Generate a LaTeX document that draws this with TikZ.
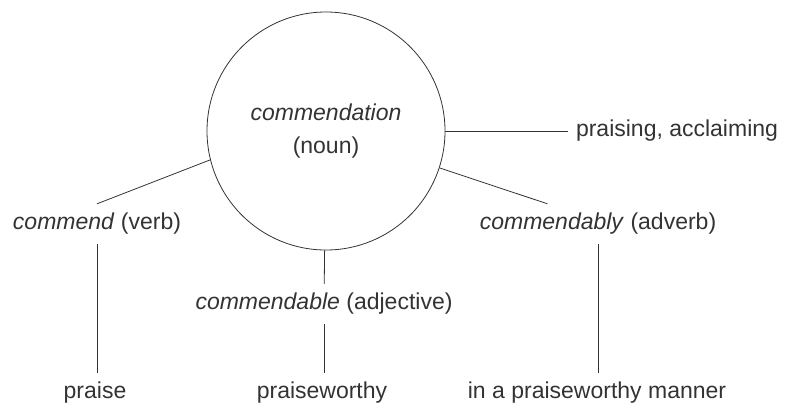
\documentclass[tikz,border=0pt]{standalone}
\usepackage{fontspec}
\setmainfont{Liberation Sans}
\usepackage{tikz}
\usepackage{xcolor}
\usetikzlibrary{calc}
\definecolor{ink}{HTML}{333333}
\tikzstyle{hub} = [circle, minimum size=238pt, draw=ink, line width=0.8pt, text=ink, align=center, inner sep=0pt, font=\fontsize{23}{33}\selectfont]
\tikzstyle{word} = [text=ink, inner xsep=8pt, inner ysep=8.5pt, text height=17pt, text depth=6pt, font=\fontsize{23}{27}\selectfont]
\tikzstyle{link} = [draw=ink, line width=0.8pt]

\begin{document}
\begin{tikzpicture}[x=1pt, y=-1pt]
        \useasboundingbox (0,0) rectangle (789,408);
        \node (noun) [hub] at (326,131) {\textit{commendation}\\(noun)};
        \node (praising) [word] at (677,131) {praising, acclaiming};
        \node (verb) [word] at (97,224) {\textit{commend} (verb)};
        \node (adv) [word] at (598,224) {\textit{commendably} (adverb)};
        \node (adj) [word] at (324,304) {\textit{commendable} (adjective)};
        \node (praise) [word] at (95,393) {praise};
        \node (worthy) [word] at (322,393) {praiseworthy};
        \node (manner) [word] at (597,393) {in a praiseworthy manner};


        \draw [link] (noun) -- (praising);
        \draw [link] (noun.194) -- (verb.north);
        \draw [link] (noun.342) -- ($(adv.north west)!0.3!(adv.north east)$);
        \draw [link] (noun) -- (adj);
        \draw [link] (verb.south) -- (verb.south |- praise.north);
        \draw [link] (adj.south) -- (adj.south |- worthy.north);
        \draw [link] (adv.south) -- (adv.south |- manner.north);


    \end{tikzpicture}
\end{document}
